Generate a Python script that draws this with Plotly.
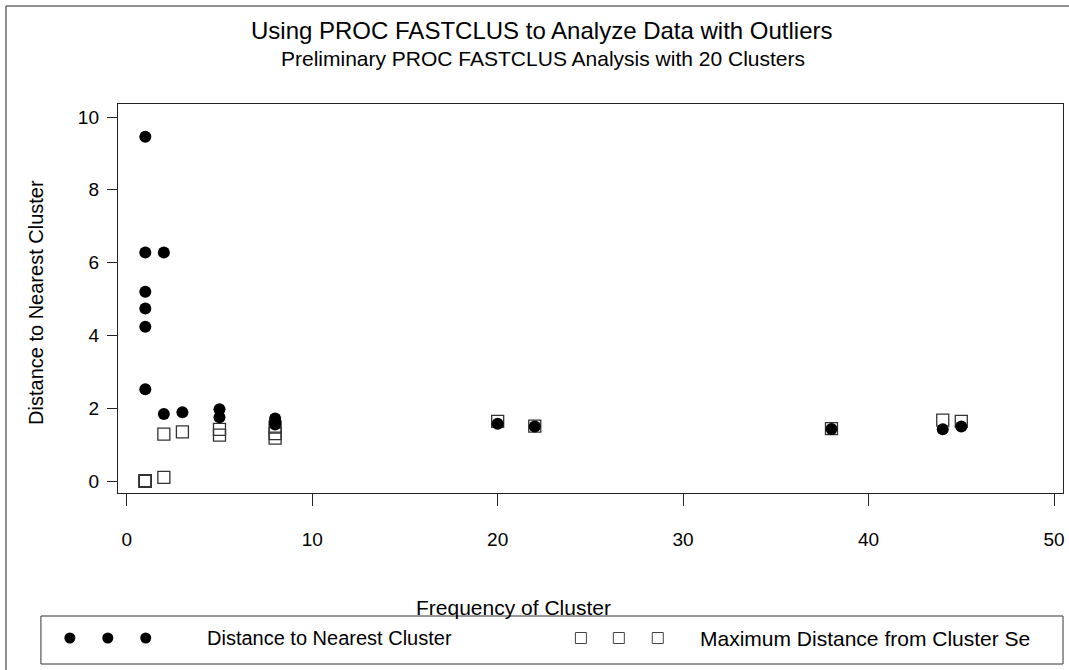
import plotly.graph_objects as go

# ---------------- data ----------------
freq = [1, 1, 1, 1, 1, 1, 2, 2, 3, 5, 5, 8, 8, 8, 20, 22, 38, 44, 45]
dist_nearest = [9.46, 6.28, 5.20, 4.74, 4.24, 2.52, 6.28, 1.84, 1.89, 1.97, 1.75,
                1.72, 1.62, 1.55, 1.57, 1.50, 1.43, 1.42, 1.50]
max_dist = [0.0, 0.0, 0.0, 0.0, 0.0, 0.0, 0.10, 1.29, 1.35, 1.42, 1.26,
            1.48, 1.30, 1.18, 1.64, 1.51, 1.44, 1.67, 1.64]
x_ticks = [0, 10, 20, 30, 40, 50]
y_ticks = [0, 2, 4, 6, 8, 10]

title = "Using PROC FASTCLUS to Analyze Data with Outliers"
subtitle = "Preliminary PROC FASTCLUS Analysis with 20 Clusters"
x_title = "Frequency of Cluster"
y_title = "Distance to Nearest Cluster"
legend_labels = ["Distance to Nearest Cluster", "Maximum Distance from Cluster Se"]

# ---------------- layout constants (page pixels) ----------------
W, H = 1069, 670
PL, PR, PT, PB = 118, 1065, 104, 493
FONT = "Liberation Sans, Arial, sans-serif"


def px(x):
    return x / W


def py(y):
    return 1 - y / H


fig = go.Figure()

# squares first, circles drawn on top
fig.add_trace(go.Scatter(
    x=freq, y=max_dist, mode="markers", showlegend=False,
    marker=dict(symbol="square-open", size=12, color="#333333",
                line=dict(width=1.3, color="#333333")),
    cliponaxis=False))
fig.add_trace(go.Scatter(
    x=freq, y=dist_nearest, mode="markers", showlegend=False,
    marker=dict(symbol="circle", size=12, color="black", line=dict(width=0)),
    cliponaxis=False))

# legend symbols on a full-page overlay axis (pixel space of the page)
leg_y = 638
fig.add_trace(go.Scatter(
    x=[70, 108, 146], y=[leg_y] * 3, xaxis="x2", yaxis="y2", mode="markers",
    showlegend=False, marker=dict(symbol="circle", size=11, color="black")))
fig.add_trace(go.Scatter(
    x=[582, 620, 659], y=[leg_y] * 3, xaxis="x2", yaxis="y2", mode="markers",
    showlegend=False,
    marker=dict(symbol="square-open", size=11, color="#444444",
                line=dict(width=1, color="#444444"))))

ax_common = dict(showgrid=False, zeroline=False, showline=True, mirror=True,
                 linecolor="#222222", linewidth=1, ticks="outside",
                 tickcolor="#222222", tickwidth=1,
                 tickfont=dict(family=FONT, size=19, color="black"))

x_unit = (1056 - 127) / 50.0
y_unit = (481 - 117) / 10.0
fig.update_layout(
    width=W, height=H,
    margin=dict(l=0, r=0, t=0, b=0),
    paper_bgcolor="white", plot_bgcolor="rgba(0,0,0,0)",
    xaxis=dict(domain=[px(PL), px(PR)],
               range=[-(127 - PL) / x_unit, 50 + (PR - 1056) / x_unit],
               tickvals=x_ticks, ticklen=12, ticklabelstandoff=17, **ax_common),
    yaxis=dict(domain=[py(PB), py(PT)],
               range=[-(PB - 481) / y_unit, 10 + (117 - PT) / y_unit],
               tickvals=y_ticks, ticklen=10, ticklabelstandoff=4, **ax_common),
    xaxis2=dict(domain=[0, 1], range=[0, W], visible=False, anchor="y2",
                fixedrange=True),
    yaxis2=dict(domain=[0, 1], range=[H, 0], visible=False, anchor="x2",
                fixedrange=True),
    showlegend=False,
)

shapes = [
    # outer border (left/top visible)
    dict(type="rect", xref="paper", yref="paper",
         x0=px(6), x1=px(W + 30), y0=py(H + 30), y1=py(6),
         line=dict(color="#222222", width=1)),
    # legend frame
    dict(type="rect", xref="paper", yref="paper",
         x0=px(41), x1=px(PR), y0=py(664), y1=py(616),
         line=dict(color="#333333", width=1)),
]
fig.update_layout(shapes=shapes)

ann = [
    dict(text=title, x=px(543), y=py(30), font=dict(size=24)),
    dict(text=subtitle, x=px(544), y=py(58), font=dict(size=21)),
    dict(text=x_title, x=px(514), y=py(607), font=dict(size=21)),
    dict(text=y_title, x=px(36), y=py(302), font=dict(size=20), textangle=-90),
    dict(text=legend_labels[0], x=px(205), y=py(leg_y), xanchor="left",
         font=dict(size=20)),
    dict(text=legend_labels[1], x=px(699), y=py(leg_y), xanchor="left",
         font=dict(size=21)),
]
for a in ann:
    a.setdefault("xanchor", "center")
    a["yanchor"] = "middle"
    a["xref"] = "paper"
    a["yref"] = "paper"
    a["showarrow"] = False
    a["font"] = dict(family=FONT, color="black", size=a["font"]["size"])
fig.update_layout(annotations=ann)

fig.write_html(
    "out.html",
    config={"displayModeBar": False},
    post_script="document.body.style.margin='0px';"
                "document.body.style.overflow='hidden';",
)
